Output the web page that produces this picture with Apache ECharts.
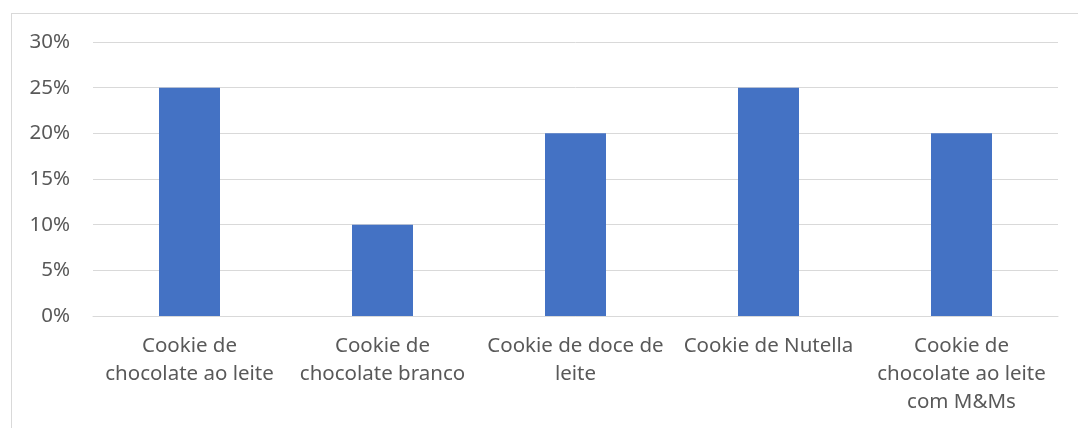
<!DOCTYPE html>
<html>
<head>
<meta charset="utf-8">
<script src="https://cdn.jsdelivr.net/npm/echarts@6/dist/echarts.min.js"></script>
<style>
html,body{margin:0;padding:0;background:#fff;overflow:hidden;}
#frame{position:absolute;left:11px;top:13px;width:1200px;height:600px;border-top:1px solid #d9d9d9;border-left:1px solid #d9d9d9;}
#chart{position:absolute;left:0;top:0;width:1078px;height:428px;}
</style>
</head>
<body>
<div id="frame"></div>
<div id="chart"></div>
<script>
const categories = ["Cookie de chocolate ao leite", "Cookie de chocolate branco", "Cookie de doce de leite", "Cookie de Nutella", "Cookie de chocolate ao leite com M&Ms"];
const tickLabels = ["Cookie de\nchocolate ao leite", "Cookie de\nchocolate branco", "Cookie de doce de\nleite", "Cookie de Nutella", "Cookie de\nchocolate ao leite\ncom M&Ms"];
const values = [0.25, 0.10, 0.20, 0.25, 0.20];
const yTicks = [0, 0.05, 0.10, 0.15, 0.20, 0.25, 0.30];

const chart = echarts.init(document.getElementById('chart'));
chart.setOption({
  animation: false,
  grid: {left: 93, right: 20, top: 42, bottom: 112, containLabel: false},
  xAxis: {
    type: 'category',
    data: categories,
    axisLine: {lineStyle: {color: '#d9d9d9', width: 1}},
    axisTick: {show: false},
    axisLabel: {
      interval: 0,
      color: '#595959',
      fontFamily: 'Noto Sans',
      fontSize: 20.5,
      lineHeight: 28,
      margin: 16,
      align: 'center',
      formatter: (v, i) => tickLabels[i]
    }
  },
  yAxis: {
    type: 'value',
    min: yTicks[0], max: yTicks[yTicks.length - 1], interval: 0.05,
    axisLine: {show: false},
    axisTick: {show: false},
    splitLine: {lineStyle: {color: '#d9d9d9', width: 1}},
    axisLabel: {
      color: '#595959',
      fontFamily: 'Noto Sans',
      fontSize: 20.5,
      margin: 23,
      formatter: v => Math.round(v * 100) + '%'
    }
  },
  series: [{
    type: 'bar',
    data: values,
    barWidth: 61,
    itemStyle: {color: '#4472C4'}
  }]
});
</script>
</body>
</html>
